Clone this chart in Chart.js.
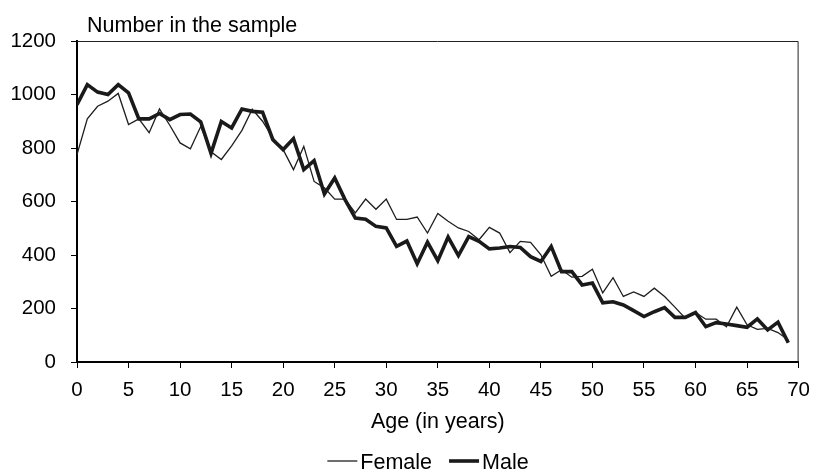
<!DOCTYPE html>
<html>
<head>
<meta charset="utf-8">
<script src="https://cdn.jsdelivr.net/npm/chart.js@4"></script>
<style>
  html, body { margin: 0; padding: 0; background: #fff; }
  #wrap { width: 820px; height: 470px; }
</style>
</head>
<body>
<div id="wrap"><canvas id="chart" width="820" height="470"></canvas></div>
<script>
const ages = [0, 1, 2, 3, 4, 5, 6, 7, 8, 9, 10, 11, 12, 13, 14, 15, 16, 17, 18, 19,
    20, 21, 22, 23, 24, 25, 26, 27, 28, 29, 30, 31, 32, 33, 34, 35, 36, 37, 38, 39,
    40, 41, 42, 43, 44, 45, 46, 47, 48, 49, 50, 51, 52, 53, 54, 55, 56, 57, 58, 59,
    60, 61, 62, 63, 64, 65, 66, 67, 68, 69];
const female = [775, 909, 956, 975, 1004, 888, 909, 857, 946, 885, 819, 797, 880, 786, 757, 808, 866, 945, 900, 838,
    794, 719, 806, 675, 651, 609, 609, 557, 609, 571, 609, 533, 533, 542, 482, 555, 526, 501, 488, 457,
    503, 482, 409, 451, 447, 401, 320, 345, 317, 320, 347, 258, 315, 245, 262, 245, 276, 245, 205, 164,
    185, 160, 160, 132, 205, 139, 122, 126, 110, 82];
const male = [962, 1037, 1009, 1000, 1037, 1006, 909, 909, 929, 906, 925, 927, 898, 780, 899, 875, 946, 937, 934, 831,
    794, 835, 719, 753, 628, 688, 607, 538, 534, 507, 501, 432, 452, 367, 448, 379, 467, 398, 469, 451,
    423, 426, 432, 428, 394, 376, 432, 338, 338, 288, 295, 221, 225, 213, 192, 170, 188, 203, 167, 167,
    185, 132, 147, 142, 136, 130, 161, 120, 149, 72];

const FONT = 'Liberation Sans, Arial, sans-serif';

// top/right frame, titles and the legend
const extras = {
    id: 'extras',
    afterDraw(chart) {
        const ctx = chart.ctx;
        const a = chart.chartArea;
        ctx.save();
        ctx.strokeStyle = '#222';
        ctx.lineWidth = 1;
        ctx.beginPath();
        ctx.moveTo(a.left, a.top + 0.5);
        ctx.lineTo(a.right - 0.5, a.top + 0.5);
        ctx.lineTo(a.right - 0.5, a.bottom);
        ctx.stroke();

        ctx.fillStyle = '#000';
        ctx.font = '21.5px ' + FONT;
        ctx.textBaseline = 'alphabetic';
        ctx.textAlign = 'left';
        ctx.fillText('Number in the sample', 87, 32);

        ctx.textAlign = 'center';
        ctx.fillText('Age (in years)', (a.left + a.right) / 2, 428);

        // legend
        const items = chart.data.datasets;
        const lineLen = 30, gap = 3, spacing = 17;
        ctx.textAlign = 'left';
        let total = 0;
        items.forEach((d, i) => {
            total += lineLen + gap + ctx.measureText(d.label).width;
            if (i < items.length - 1) total += spacing;
        });
        let x = 428 - total / 2;
        const y = 461;
        items.forEach(d => {
            ctx.strokeStyle = d.borderColor;
            ctx.lineWidth = d.borderWidth;
            ctx.beginPath();
            ctx.moveTo(x, y);
            ctx.lineTo(x + lineLen, y);
            ctx.stroke();
            x += lineLen + gap;
            ctx.fillText(d.label, x, y + 8);
            x += ctx.measureText(d.label).width + spacing;
        });
        ctx.restore();
    }
};

const ctx = document.getElementById('chart').getContext('2d');
new Chart(ctx, {
    type: 'line',
    data: {
        datasets: [
            {
                label: 'Female',
                data: ages.map((a, i) => ({ x: a, y: female[i] })),
                borderColor: '#1e1e1e',
                borderWidth: 1.3,
                pointRadius: 0,
                tension: 0,
            },
            {
                label: 'Male',
                data: ages.map((a, i) => ({ x: a, y: male[i] })),
                borderColor: '#1a1a1a',
                borderWidth: 3.6,
                pointRadius: 0,
                tension: 0,
            }
        ]
    },
    options: {
        responsive: false,
        animation: false,
        layout: { padding: { top: 41, right: 15, left: 0, bottom: 0 } },
        plugins: {
            legend: { display: false },
            tooltip: { enabled: false }
        },
        scales: {
            x: {
                type: 'linear',
                min: 0,
                max: 70,
                afterFit: s => { s.height = 108; },
                border: { color: '#000', width: 2 },
                grid: { drawOnChartArea: false, drawTicks: true, tickLength: 6, color: '#000' },
                ticks: { stepSize: 5, color: '#000', padding: 10, font: { family: FONT, size: 20.5 }, maxRotation: 0,
                    callback: v => String(v) }
            },
            y: {
                min: 0,
                max: 1200,
                afterFit: s => { s.width = 77; },
                border: { color: '#000', width: 2 },
                grid: { drawOnChartArea: false, drawTicks: true, tickLength: 6, color: '#000' },
                ticks: { stepSize: 200, color: '#000', padding: 15, font: { family: FONT, size: 20.5 },
                    callback: v => String(v) }
            }
        }
    },
    plugins: [extras]
});
</script>
</body>
</html>
